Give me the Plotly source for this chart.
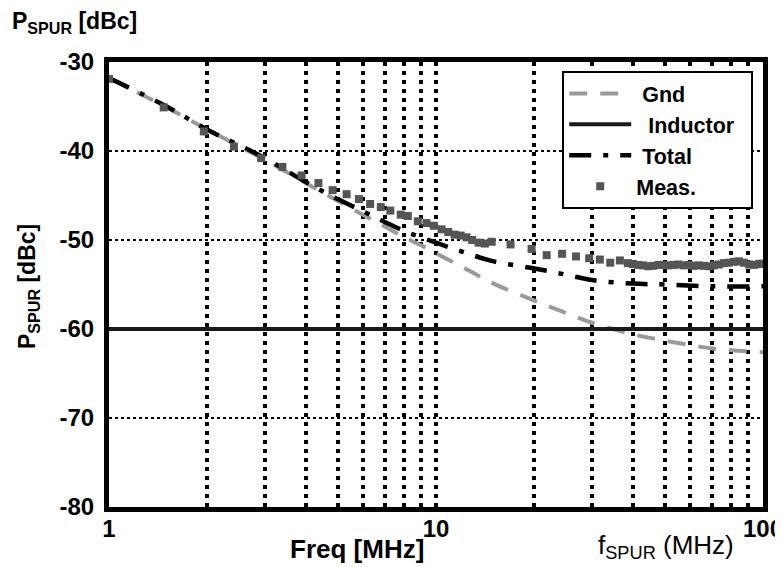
import plotly.graph_objects as go

# ---- data ----
gnd_f = [1, 1.5, 2, 3, 4, 5, 6, 7, 8, 9, 10, 12, 15, 20, 25, 30, 40, 50, 60, 70, 80, 100]
gnd_db = [-31.8, -35.1, -37.6, -41.0, -43.6, -45.6, -47.2, -48.5, -49.7, -50.6, -51.5,
          -53.0, -54.9, -56.8, -58.2, -59.3, -60.6, -61.3, -61.8, -62.2, -62.4, -62.6]

ind_f = [1, 100]
ind_db = [-60.0, -60.0]

tot_f = [1, 1.5, 2, 3, 4, 5, 6, 7, 8, 9, 10, 12, 15, 20, 25, 30, 40, 50, 70, 100]
tot_db = [-31.8, -35.0, -37.6, -40.8, -43.5, -45.4, -46.8, -48.0, -49.0, -49.7, -50.3,
          -51.3, -52.4, -53.2, -53.9, -54.5, -54.9, -55.0, -55.2, -55.2]

meas_f = [1.0, 1.47, 1.95, 2.41, 2.92, 3.39, 3.88, 4.37, 4.83, 5.33, 5.81, 6.29, 6.78,
          7.25, 7.8, 8.2, 8.8, 9.35, 9.85, 10.4, 10.9, 11.4, 11.9, 12.4, 12.9, 13.5,
          14.1, 14.8, 16.9, 19.6, 21.8, 24.3, 26.8, 29.4, 31.7, 34.1, 36.5, 38.6, 40.0,
          41.5, 43.0, 44.6, 46.2, 47.9, 49.6, 51.4, 53.3, 55.2, 57.2, 59.3, 61.4, 63.6,
          65.9, 68.3, 70.7, 73.3, 75.9, 78.6, 81.5, 84.4, 87.4, 90.6, 93.8, 97.2, 99.5]
meas_db = [-31.9, -35.1, -37.8, -39.5, -40.8, -41.8, -42.75, -43.6, -44.4, -44.85, -45.4,
           -45.95, -46.3, -46.7, -47.15, -47.3, -47.9, -48.1, -48.4, -48.8, -49.1, -49.4,
           -49.5, -49.7, -50.0, -50.3, -50.4, -50.2, -50.5, -51.0, -51.7, -51.55, -51.85,
           -52.05, -52.2, -52.55, -52.3, -52.6, -52.7, -52.8, -52.85, -52.95, -52.9, -52.8,
           -52.8, -52.85, -52.8, -52.75, -52.85, -52.8, -52.9, -52.85, -52.9, -52.95,
           -52.85, -52.75, -52.6, -52.55, -52.45, -52.4, -52.55, -52.75, -52.8, -52.7, -52.65]

x_ticks = [1, 10, 100]
x_ticktext = ["1", "10", "100"]
x_minor = [2, 3, 4, 5, 6, 7, 8, 9, 20, 30, 40, 50, 60, 70, 80, 90]
y_ticks = [-80, -70, -60, -50, -40, -30]
y_ticktext = ["-80", "-70", "-60", "-50", "-40", "-30"]

FONT = "Liberation Sans, Arial, sans-serif"
NB = "\u00a0"

fig = go.Figure()
fig.add_trace(go.Scatter(x=gnd_f, y=gnd_db, mode="lines", name="<b>" + NB + "Gnd</b>",
                         line=dict(color="#9a9a9a", width=4, dash="18px,13px", shape="spline")))
fig.add_trace(go.Scatter(x=ind_f, y=ind_db, mode="lines",
                         name="<b>" + NB * 2 + "Inductor" + NB * 2 + "</b>",
                         line=dict(color="#1a1a1a", width=4)))
fig.add_trace(go.Scatter(x=tot_f, y=tot_db, mode="lines", name="<b>" + NB + "Total</b>",
                         line=dict(color="black", width=4.5, dash="22px,12px,5px,12px", shape="spline")))
fig.add_trace(go.Scatter(x=meas_f, y=meas_db, mode="markers", name="<b>Meas.</b>",
                         marker=dict(symbol="square", size=8, color="#555555")))

# page body adds an 8px offset; margins compensate so the plot area lands at 109..763 x 62..507
fig.update_layout(
    width=775, height=559,
    margin=dict(l=101, r=20, t=54, b=60, autoexpand=False),
    plot_bgcolor="white", paper_bgcolor="white",
    font=dict(family=FONT, color="black", size=20),
    legend=dict(x=0.693, y=0.98, xanchor="left", yanchor="top",
                bgcolor="white", bordercolor="black", borderwidth=2,
                font=dict(family=FONT, size=21.5, color="black"),
                itemwidth=62, tracegroupgap=0),
    xaxis=dict(type="log", range=[0, 2], tickvals=x_ticks, ticktext=x_ticktext,
               tickfont=dict(family=FONT, size=24, weight="bold"),
               showline=True, linewidth=5, linecolor="black", mirror=True,
               ticks="", ticklabelstandoff=-4, automargin=False,
               ticklabeloverflow="allow",
               showgrid=True, gridcolor="black", gridwidth=4, griddash="4px,5px",
               zeroline=False,
               minor=dict(tickvals=x_minor, showgrid=True, gridcolor="black",
                          gridwidth=4, griddash="4px,5px", ticks="")),
    yaxis=dict(range=[-80, -30], tickvals=y_ticks, ticktext=y_ticktext,
               tickfont=dict(family=FONT, size=24, weight="bold"),
               showline=True, linewidth=5, linecolor="black", mirror=True,
               ticks="", ticklabelstandoff=5, automargin=False,
               ticklabeloverflow="allow",
               showgrid=True, gridcolor="black", gridwidth=1.5, griddash="3px,3px",
               zeroline=False),
    showlegend=True,
)

annotations = [
    dict(text="<b>P<sub>SPUR</sub> [dBc]</b>", xref="paper", yref="paper",
         x=(10 - 109) / 654, y=(507 - 22) / 445, xanchor="left", yanchor="middle",
         showarrow=False, font=dict(family=FONT, size=23)),
    dict(text="<b>P<sub>SPUR</sub> [dBc]</b>", xref="paper", yref="paper",
         x=(28 - 109) / 654, y=(507 - 287) / 445, xanchor="center", yanchor="middle",
         textangle=-90, showarrow=False, font=dict(family=FONT, size=23)),
    dict(text="<b>Freq [MHz]</b>", xref="paper", yref="paper",
         x=(357 - 109) / 654, y=(507 - 549) / 445, xanchor="center", yanchor="middle",
         showarrow=False, font=dict(family=FONT, size=26)),
    dict(text="f<sub>SPUR</sub> (MHz)", xref="paper", yref="paper",
         x=(666 - 109) / 654, y=(507 - 546) / 445, xanchor="center", yanchor="middle",
         showarrow=False, font=dict(family=FONT, size=26)),
]
fig.update_layout(annotations=annotations)

fig.write_html("out.html")
